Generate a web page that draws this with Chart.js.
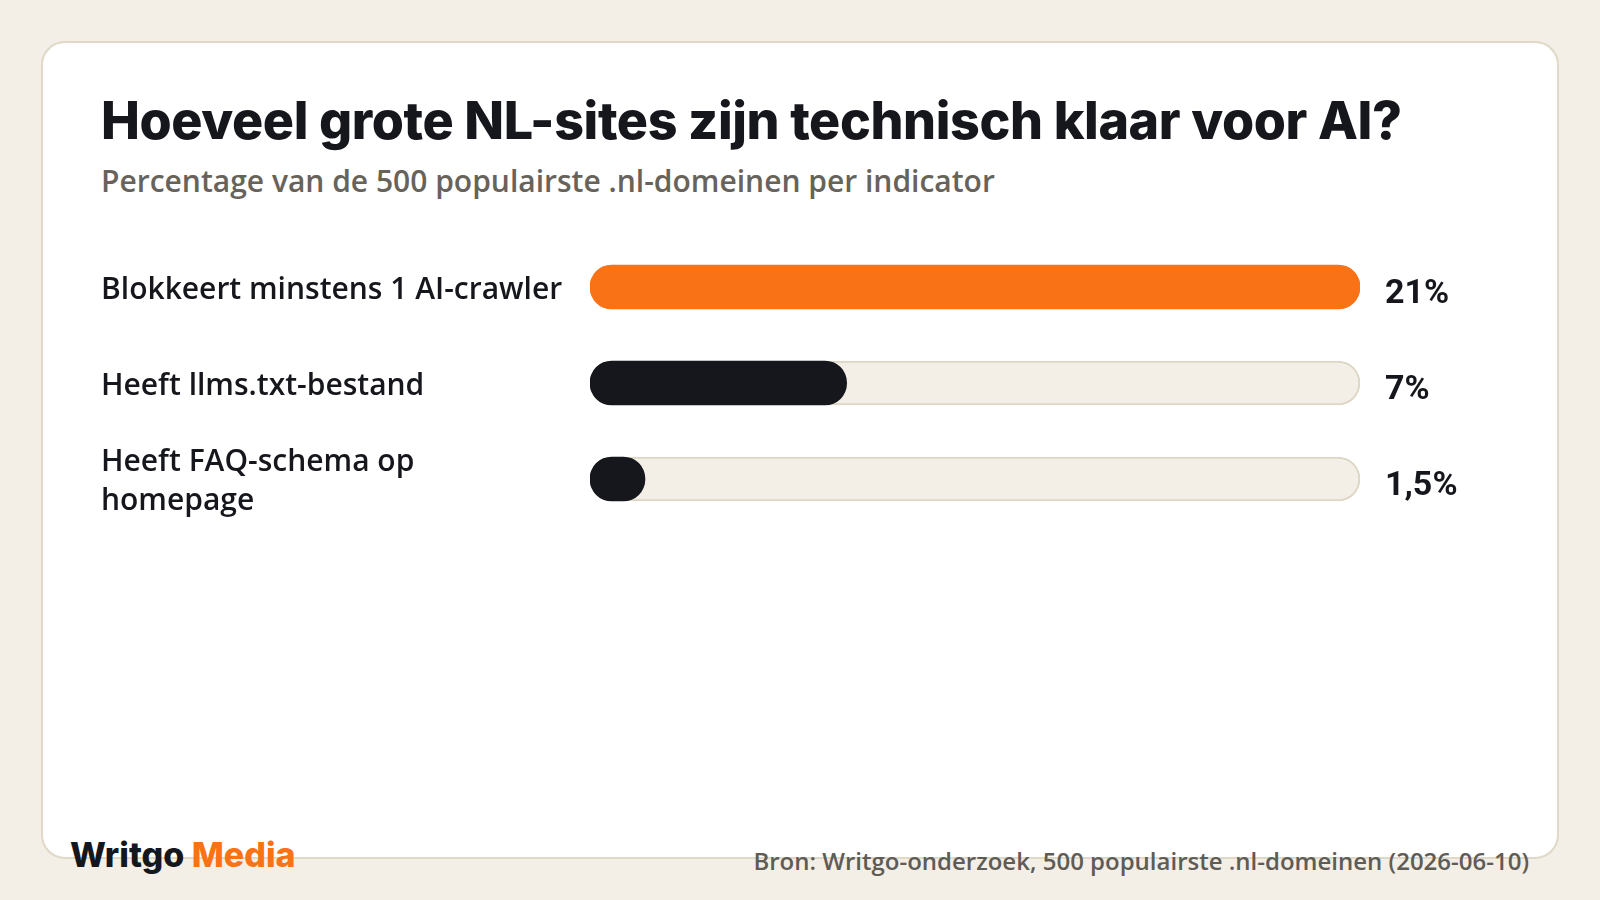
<!DOCTYPE html>
<html>
<head>
<meta charset="utf-8">
<script src="https://cdn.jsdelivr.net/npm/chart.js@4.4.1/dist/chart.umd.min.js"></script>
<style>
  html, body { margin: 0; padding: 0; }
  body { width: 1600px; height: 900px; background: #f3efe7; position: relative; overflow: hidden; font-family: "Open Sans", "Noto Sans", sans-serif; }
  .card { position: absolute; left: 41px; top: 41px; width: 1514px; height: 814px; background: #fff; border: 2px solid #e0d9c8; border-radius: 24px; }
  h1 { position: absolute; left: 101px; top: 89px; margin: 0; font-family: Inter, sans-serif; font-weight: 800; font-size: 52px; color: #16171c; letter-spacing: -0.4px; white-space: nowrap; }
  .sub { position: absolute; left: 101px; top: 160px; margin: 0; font-weight: 600; font-size: 30px; color: #67635b; white-space: nowrap; }
  .logo { position: absolute; left: 70px; top: 834px; font-family: Inter, sans-serif; font-weight: 800; font-size: 34px; color: #16171c; white-space: nowrap; }
  .logo span { color: #f97316; }
  .src { position: absolute; right: 71px; top: 844px; font-weight: 600; font-size: 24px; color: #5f5b55; white-space: nowrap; }
  #wrap { position: absolute; left: 101px; top: 229px; width: 1400px; height: 308px; }
</style>
</head>
<body>
<div class="card"></div>
<h1 id="title">Hoeveel grote NL-sites zijn technisch klaar voor AI?</h1>
<p class="sub" id="sub">Percentage van de 500 populairste .nl-domeinen per indicator</p>
<div id="wrap"><canvas id="bars"></canvas></div>
<div class="logo">Writgo <span>Media</span></div>
<div class="src" id="src">Bron: Writgo-onderzoek, 500 populairste .nl-domeinen (2026-06-10)</div>

<script>
// data
var labels = ["Blokkeert minstens 1 AI-crawler", "Heeft llms.txt-bestand", ["Heeft FAQ-schema op", "homepage"]];
var values = [21, 7, 1.5];
var valueText = ["21%", "7%", "1,5%"];
var barColors = ["#f97316", "#16171c", "#16171c"];

var maxVal = Math.max.apply(null, values);
var track = values.map(function () { return maxVal; });

// value labels right of the track
var valueLabels = {
    id: 'valueLabels',
    afterDatasetsDraw: function (chart) {
        var ctx = chart.ctx;
        var meta = chart.getDatasetMeta(1);
        ctx.save();
        ctx.font = 'bold 34px Roboto, "DejaVu Sans Condensed", sans-serif';
        ctx.fillStyle = '#16171c';
        ctx.textAlign = 'left';
        ctx.textBaseline = 'middle';
        meta.data.forEach(function (bar, i) {
            ctx.fillText(valueText[i], chart.chartArea.right + 25, bar.y + 7);
        });
        ctx.restore();
    }
};

new Chart(document.getElementById("bars"), {
    type: 'bar',
    data: {
        labels: labels,
        datasets: [
            {
                data: track,
                backgroundColor: '#f3efe7',
                borderColor: '#ddd6c4',
                borderWidth: 2,
                borderRadius: 22,
                borderSkipped: false,
                barThickness: 44,
                order: 2
            },
            {
                data: values,
                backgroundColor: barColors,
                borderWidth: 0,
                borderRadius: 22,
                borderSkipped: false,
                barThickness: 44,
                order: 1
            }
        ]
    },
    options: {
        indexAxis: 'y',
        responsive: true,
        maintainAspectRatio: false,
        animation: false,
        grouped: false,
        layout: { padding: { top: 10, bottom: 10, right: 141, left: 0 } },
        plugins: {
            legend: { display: false },
            tooltip: { enabled: false }
        },
        scales: {
            x: { min: 0, max: maxVal, display: false },
            y: {
                grid: { display: false },
                border: { display: false },
                afterFit: function (axis) {
                    axis.width = 489;
                    // no extra room for the two-line label
                    axis.paddingTop = 0;
                    axis.paddingBottom = 0;
                },
                ticks: {
                    crossAlign: 'far',
                    padding: 0,
                    labelOffset: 3,
                    color: '#16171c',
                    font: { family: '"Open Sans", "Noto Sans", sans-serif', size: 30, weight: '600', lineHeight: 1.27 }
                }
            }
        }
    },
    plugins: [valueLabels]
});
</script>
</body>
</html>
